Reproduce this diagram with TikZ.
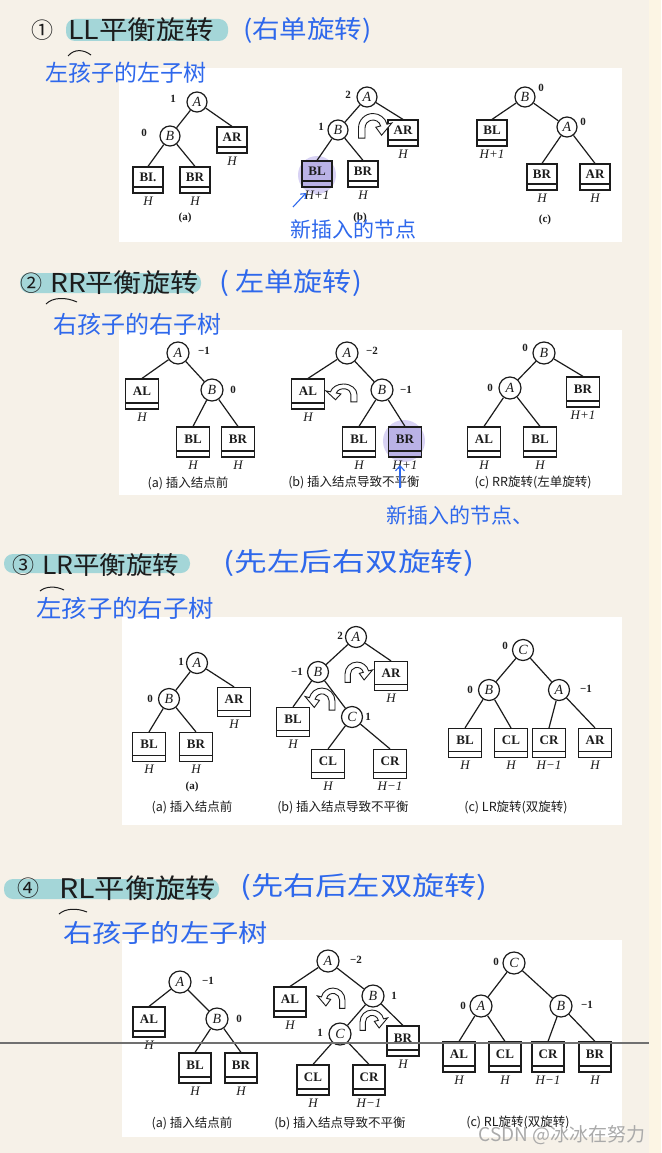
\documentclass[tikz,border=0pt]{standalone}
\usepackage{fontspec}
\setmainfont{Liberation Serif}
\newfontfamily\cjk{Noto Sans CJK SC}
\usetikzlibrary{positioning,arrows.meta}

\definecolor{paper}{RGB}{246,241,232}
\definecolor{paperedge}{RGB}{252,245,228}
\definecolor{tealmark}{RGB}{164,214,216}
\definecolor{pen}{RGB}{46,104,236}
\definecolor{ink}{RGB}{28,28,28}
\definecolor{glow}{RGB}{216,210,244}
\definecolor{newbox}{RGB}{186,178,230}
\definecolor{rulegray}{RGB}{112,112,112}
\definecolor{wm}{RGB}{170,170,170}

\newcommand\bw{30pt}
\newcommand\bh{26pt}
\newcommand\vd{20pt}
\newcommand\hsz[1]{\fontsize{#1}{#1}\selectfont}

\begin{document}
\begin{tikzpicture}[x=1pt, y=-1pt,
    vx/.style={draw=ink, circle, line width=1.2pt, fill=white, minimum size=\vd,
               inner sep=0pt, text=ink, font=\itshape\hsz{14}},
    sub/.style={draw=ink, line width=1.2pt, fill=white, minimum width=\bw,
                minimum height=\bh, inner sep=0pt, text height=9pt, text depth=6.4pt,
                text=ink, font=\bfseries\hsz{13},
                path picture={\draw[ink, line width=1.2pt]
                  ([yshift=6pt]path picture bounding box.south west) --
                  ([yshift=6pt]path picture bounding box.south east);}},
    tie/.style={draw=ink, line width=1.2pt},
    bf/.style={text=ink, inner sep=0pt, font=\bfseries\hsz{11}},
    hh/.style={text=ink, inner sep=1pt, font=\itshape\hsz{13}},
    captxt/.style={text=ink, inner sep=0pt, font=\cjk\hsz{12.5}},
    ttl/.style={text=ink, inner sep=0pt, anchor=west, font=\cjk\hsz{26}},
    hand/.style={text=pen, inner sep=0pt, anchor=west, font=\cjk\hsz{24}},
    panel/.style={fill=white},
    hl/.style={fill=tealmark, rounded corners=9pt},
    swing/.pic={\draw[ink, line width=0.9pt, fill=white, x=1pt, y=1pt]
      (-10,-7) -- (-10,0) arc[start angle=180, end angle=15, radius=10]
      -- (15:13.5) -- (-40:7.75) -- (15:2) -- (15:5.5)
      arc[start angle=15, end angle=180, radius=5.5] -- (-5.5,-7) -- cycle;},
  ]
  \useasboundingbox (0,0) rectangle (661,1153);
  \fill[paper] (0,0) rectangle (661,1153);
  \fill[paperedge] (649,0) rectangle (661,1153);

  % white panels
  \fill[panel] (119,68) rectangle (622,242);
  \fill[panel] (119,330) rectangle (622,495);
  \fill[panel] (122,617) rectangle (622,825);
  \fill[panel] (122,940) rectangle (622,1137);

  % ---------- 1: LL ----------
  \fill[hl] (66,19) rectangle (228,41);
  \node[ttl, font=\cjk\hsz{22}] (LLnum) at (31,30) {①};
  \node[ttl] (LLtitle) at (68,30) {\scalebox{1.1}[1]{LL平衡旋转}};
  \node[hand] (LLalt) at (243,30) {\hsz{25}\scalebox{1.1}[1]{(右单旋转)}};
  \draw[ink, line width=1pt] (68,56) .. controls (74,49) and (83,49) .. (91,55);
  \node[hand, font=\cjk\hsz{23}] (LLsub) at (45,73) {左孩子的左子树};

  \def\bw{30pt}\def\bh{26pt}\def\vd{20pt}
  % (a)
  \node[vx] (LLaA) at (197,102) {A};
  \node[vx] (LLaB) at (170,136) {B};
  \node[sub] (LLaAR) at (232,140) {AR};
  \node[sub] (LLaBL) at (148,180) {BI.};
  \node[sub] (LLaBR) at (195,180) {BR};
  \node[bf] (LLaAf) at (173,99) {1};
  \node[bf] (LLaBf) at (144,133) {0};
  \node[hh, below=2.5pt of LLaAR] (LLaARh) {H};
  \node[hh, below=2.5pt of LLaBL] (LLaBLh) {H};
  \node[hh, below=2.5pt of LLaBR] (LLaBRh) {H};
  \node[bf] (LLacap) at (185,218) {(a)};
  \foreach \u/\v in {LLaA/LLaB, LLaA/LLaAR.north, LLaB/LLaBL.north, LLaB/LLaBR.north}
    \draw[tie] (\u) -- (\v);
  % (b)
  \fill[glow] (317,175) circle[radius=19];
  \node[vx] (LLbA) at (367,97) {A};
  \node[vx] (LLbB) at (338,130) {B};
  \node[sub] (LLbAR) at (403,133) {AR};
  \node[sub, fill=newbox] (LLbBL) at (317,174) {BL};
  \node[sub] (LLbBR) at (363,174) {BR};
  \node[bf] (LLbAf) at (348,95) {2};
  \node[bf] (LLbBf) at (321,127) {1};
  \node[hh, below=2.5pt of LLbAR] (LLbARh) {H};
  \node[hh, below=2.5pt of LLbBL] (LLbBLh) {H+1};
  \node[hh, below=2.5pt of LLbBR] (LLbBRh) {H};
  \node[bf] (LLbcap) at (360,218) {(b)};
  \foreach \u/\v in {LLbA/LLbB, LLbA/LLbAR.north, LLbB/LLbBL.north, LLbB/LLbBR.north}
    \draw[tie] (\u) -- (\v);
  \pic[scale=1.45] at (373,128) {swing};
  % (c)
  \node[vx] (LLcB) at (525,97) {B};
  \node[vx] (LLcA) at (567,127) {A};
  \node[sub] (LLcBL) at (492,133) {BL};
  \node[sub] (LLcBR) at (542,177) {BR};
  \node[sub] (LLcAR) at (595,177) {AR};
  \node[bf] (LLcBf) at (541,88) {0};
  \node[bf] (LLcAf) at (583,122) {0};
  \node[hh, below=2.5pt of LLcBL] (LLcBLh) {H+1};
  \node[hh, below=2.5pt of LLcBR] (LLcBRh) {H};
  \node[hh, below=2.5pt of LLcAR] (LLcARh) {H};
  \node[bf] (LLccap) at (545,220) {(c)};
  \foreach \u/\v in {LLcB/LLcBL.north, LLcB/LLcA, LLcA/LLcBR.north, LLcA/LLcAR.north}
    \draw[tie] (\u) -- (\v);
  % new node note
  \node[hand, font=\cjk\hsz{21}] (LLnew) at (290,229) {新插入的节点};
  \coordinate (LLptr) at (293,207);
  \coordinate (LLtip) at (306,193);
  \draw[pen, line width=1.1pt, -{Straight Barb[length=4pt, width=7pt]}] (LLptr) -- (LLtip);

  % ---------- 2: RR ----------
  \fill[hl] (20,273) rectangle (201,293);
  \node[ttl, font=\cjk\hsz{22}] (RRnum) at (20,283) {②};
  \node[ttl] (RRtitle) at (50,283) {\scalebox{1.08}[1]{RR平衡旋转}};
  \node[hand] (RRalt) at (219,283) {\hsz{26}\scalebox{1.12}[1]{( 左单旋转)}};
  \draw[ink, line width=1pt] (46,304) .. controls (53,297) and (66,297) .. (77,302);
  \node[hand] (RRsub) at (53,324) {右孩子的右子树};

  \def\bw{33pt}\def\bh{30pt}\def\vd{22pt}
  % (a)
  \node[vx] (RRaA) at (178,353) {A};
  \node[sub] (RRaAL) at (142,394) {AL};
  \node[vx] (RRaB) at (212,390) {B};
  \node[sub] (RRaBL) at (193,442) {BL};
  \node[sub] (RRaBR) at (238,442) {BR};
  \node[bf] (RRaAf) at (204,351) {−1};
  \node[bf] (RRaBf) at (233,390) {0};
  \node[hh, below=2pt of RRaAL] (RRaALh) {H};
  \node[hh, below=2pt of RRaBL] (RRaBLh) {H};
  \node[hh, below=2pt of RRaBR] (RRaBRh) {H};
  \node[captxt] (RRacap) at (188,483) {(a) 插入结点前};
  \foreach \u/\v in {RRaA/RRaAL.north, RRaA/RRaB, RRaB/RRaBL.north, RRaB/RRaBR.north}
    \draw[tie] (\u) -- (\v);
  % (b)
  \fill[glow] (404,441) circle[radius=21];
  \node[vx] (RRbA) at (347,353) {A};
  \node[sub] (RRbAL) at (308,394) {AL};
  \node[vx] (RRbB) at (382,390) {B};
  \node[sub] (RRbBL) at (359,442) {BL};
  \node[sub, fill=newbox] (RRbBR) at (405,442) {BR};
  \node[bf] (RRbAf) at (372,351) {−2};
  \node[bf] (RRbBf) at (406,390) {−1};
  \node[hh, below=2pt of RRbAL] (RRbALh) {H};
  \node[hh, below=2pt of RRbBL] (RRbBLh) {H};
  \node[hh, below=2pt of RRbBR] (RRbBRh) {H+1};
  \node[captxt] (RRbcap) at (354,482) {(b) 插入结点导致不平衡};
  \foreach \u/\v in {RRbA/RRbAL.north, RRbA/RRbB, RRbB/RRbBL.north, RRbB/RRbBR.north}
    \draw[tie] (\u) -- (\v);
  \pic[xscale=-1.35, yscale=1.05] at (343.5,394.5) {swing};
  % (c)
  \node[vx] (RRcB) at (544,353) {B};
  \node[vx] (RRcA) at (510,388) {A};
  \node[sub] (RRcBR) at (583,392) {BR};
  \node[sub] (RRcAL) at (484,442) {AL};
  \node[sub] (RRcBL) at (540,442) {BL};
  \node[bf] (RRcBf) at (525,348) {0};
  \node[bf] (RRcAf) at (490,388) {0};
  \node[hh, below=2pt of RRcBR] (RRcBRh) {H+1};
  \node[hh, below=2pt of RRcAL] (RRcALh) {H};
  \node[hh, below=2pt of RRcBL] (RRcBLh) {H};
  \node[captxt] (RRccap) at (533,482) {(c) RR旋转(左单旋转)};
  \foreach \u/\v in {RRcB/RRcA, RRcB/RRcBR.north, RRcA/RRcAL.north, RRcA/RRcBL.north}
    \draw[tie] (\u) -- (\v);
  % new node note
  \coordinate (RRptr) at (400,488);
  \coordinate (RRtip) at (400,465);
  \draw[pen, line width=1.1pt, -{Straight Barb[length=5pt, width=9pt]}] (RRptr) -- (RRtip);
  \node[hand, font=\cjk\hsz{21}] (RRnew) at (386,515) {新插入的节点、};

  % ---------- 3: LR ----------
  \fill[hl] (4,554) rectangle (190,573);
  \node[ttl, font=\cjk\hsz{22}] (LRnum) at (12,565) {③};
  \node[ttl, font=\cjk\hsz{25}] (LRtitle) at (42,565) {\scalebox{1.06}[1]{LR平衡旋转}};
  \node[hand] (LRalt) at (223,563) {\hsz{26}\scalebox{1.26}[1]{(先左后右双旋转)}};
  \draw[ink, line width=1pt] (40,591) .. controls (46,586) and (56,586) .. (64,590);
  \node[hand] (LRsub) at (36,608) {\hsz{24}\scalebox{1.06}[1]{左孩子的右子树}};

  \def\bw{33pt}\def\bh{29pt}\def\vd{21pt}
  % (a)
  \node[vx] (LRaA) at (197,663) {A};
  \node[vx] (LRaB) at (169,699) {B};
  \node[sub] (LRaAR) at (234,702) {AR};
  \node[sub] (LRaBL) at (149,747) {BL};
  \node[sub] (LRaBR) at (196,747) {BR};
  \node[bf] (LRaAf) at (181,662) {1};
  \node[bf] (LRaBf) at (150,699) {0};
  \node[hh, below=2pt of LRaAR] (LRaARh) {H};
  \node[hh, below=2pt of LRaBL] (LRaBLh) {H};
  \node[hh, below=2pt of LRaBR] (LRaBRh) {H};
  \node[bf] (LRaa) at (192,787) {(a)};
  \node[captxt] (LRacap) at (192,807) {(a) 插入结点前};
  \foreach \u/\v in {LRaA/LRaB, LRaA/LRaAR.north, LRaB/LRaBL.north, LRaB/LRaBR.north}
    \draw[tie] (\u) -- (\v);
  % (b)
  \node[vx] (LRbA) at (356,637) {A};
  \node[vx] (LRbB) at (318,672) {B};
  \node[sub] (LRbAR) at (391,676) {AR};
  \node[sub] (LRbBL) at (293,722) {BL};
  \node[vx] (LRbC) at (352,717) {C};
  \node[sub] (LRbCL) at (328,764) {CL};
  \node[sub] (LRbCR) at (390,764) {CR};
  \node[bf] (LRbAf) at (340,636) {2};
  \node[bf] (LRbBf) at (297,672) {−1};
  \node[bf] (LRbCf) at (368,717) {1};
  \node[hh, below=2pt of LRbAR] (LRbARh) {H};
  \node[hh, below=2pt of LRbBL] (LRbBLh) {H};
  \node[hh, below=2pt of LRbCL] (LRbCLh) {H};
  \node[hh, below=2pt of LRbCR] (LRbCRh) {H−1};
  \node[captxt] (LRbcap) at (343,807) {(b) 插入结点导致不平衡};
  \foreach \u/\v in {LRbA/LRbB, LRbA/LRbAR.north, LRbB/LRbBL.north, LRbB/LRbC,
                     LRbC/LRbCL.north, LRbC/LRbCR.north}
    \draw[tie] (\u) -- (\v);
  \pic[scale=1.2] at (357,674) {swing};
  \pic[xscale=-1.3, yscale=1.3] at (322,701) {swing};
  % (c)
  \node[vx] (LRcC) at (523,650) {C};
  \node[vx] (LRcB) at (489,690) {B};
  \node[vx] (LRcA) at (559,690) {A};
  \node[sub] (LRcBL) at (465,743) {BL};
  \node[sub] (LRcCL) at (511,743) {CL};
  \node[sub] (LRcCR) at (549,743) {CR};
  \node[sub] (LRcAR) at (595,743) {AR};
  \node[bf] (LRcCf) at (505,646) {0};
  \node[bf] (LRcBf) at (470,690) {0};
  \node[bf] (LRcAf) at (586,689) {−1};
  \node[hh, below=2pt of LRcBL] (LRcBLh) {H};
  \node[hh, below=2pt of LRcCL] (LRcCLh) {H};
  \node[hh, below=2pt of LRcCR] (LRcCRh) {H−1};
  \node[hh, below=2pt of LRcAR] (LRcARh) {H};
  \node[captxt] (LRccap) at (516,807) {(c) LR旋转(双旋转)};
  \foreach \u/\v in {LRcC/LRcB, LRcC/LRcA, LRcB/LRcBL.north, LRcB/LRcCL.north,
                     LRcA/LRcCR.north, LRcA/LRcAR.north}
    \draw[tie] (\u) -- (\v);

  % ---------- 4: RL ----------
  \fill[hl] (4,879) rectangle (219,899);
  \node[ttl, font=\cjk\hsz{22}] (RLnum) at (17,888) {④};
  \node[ttl, font=\cjk\hsz{27}] (RLtitle) at (59,888) {\scalebox{1.12}[1]{RL平衡旋转}};
  \node[hand] (RLalt) at (240,887) {\hsz{26}\scalebox{1.24}[1]{(先右后左双旋转)}};
  \draw[ink, line width=1pt] (59,914) .. controls (66,908) and (77,908) .. (87,912);
  \node[hand] (RLsub) at (63,933) {\hsz{25}\scalebox{1.17}[1]{右孩子的左子树}};

  \def\bw{32pt}\def\bh{30pt}\def\vd{22pt}
  % (a)
  \node[vx] (RLaA) at (180,982) {A};
  \node[sub] (RLaAL) at (149,1022) {AL};
  \node[vx] (RLaB) at (217,1019) {B};
  \node[sub] (RLaBL) at (195,1068) {BL};
  \node[sub] (RLaBR) at (241,1068) {BR};
  \node[bf] (RLaAf) at (208,981) {−1};
  \node[bf] (RLaBf) at (239,1019) {0};
  \node[hh, below=2pt of RLaAL] (RLaALh) {H};
  \node[hh, below=2pt of RLaBL] (RLaBLh) {H};
  \node[hh, below=2pt of RLaBR] (RLaBRh) {H};
  \node[captxt] (RLacap) at (192,1123) {(a) 插入结点前};
  \foreach \u/\v in {RLaA/RLaAL.north, RLaA/RLaB, RLaB/RLaBL.north, RLaB/RLaBR.north}
    \draw[tie] (\u) -- (\v);
  % (b)
  \node[vx] (RLbA) at (328,961) {A};
  \node[sub] (RLbAL) at (290,1002) {AL};
  \node[vx] (RLbB) at (373,996) {B};
  \node[vx] (RLbC) at (340,1034) {C};
  \node[sub] (RLbBR) at (403,1041) {BR};
  \node[sub] (RLbCL) at (313,1080) {CL};
  \node[sub] (RLbCR) at (369,1080) {CR};
  \node[bf] (RLbAf) at (356,960) {−2};
  \node[bf] (RLbBf) at (394,996) {1};
  \node[bf] (RLbCf) at (320,1033) {1};
  \node[hh, below=2pt of RLbAL] (RLbALh) {H};
  \node[hh, below=2pt of RLbBR] (RLbBRh) {H};
  \node[hh, below=2pt of RLbCL] (RLbCLh) {H};
  \node[hh, below=2pt of RLbCR] (RLbCRh) {H−1};
  \node[captxt] (RLbcap) at (340,1123) {(b) 插入结点导致不平衡};
  \foreach \u/\v in {RLbA/RLbAL.north, RLbA/RLbB, RLbB/RLbC, RLbB/RLbBR.north,
                     RLbC/RLbCL.north, RLbC/RLbCR.north}
    \draw[tie] (\u) -- (\v);
  \pic[xscale=-1.2, yscale=1.2] at (333,1000) {swing};
  \pic[scale=1.2] at (372,1022) {swing};
  % (c)
  \node[vx] (RLcC) at (514,963) {C};
  \node[vx] (RLcA) at (481,1006) {A};
  \node[vx] (RLcB) at (561,1006) {B};
  \node[sub] (RLcAL) at (459,1057) {AL};
  \node[sub] (RLcCL) at (505,1057) {CL};
  \node[sub] (RLcCR) at (548,1057) {CR};
  \node[sub] (RLcBR) at (595,1057) {BR};
  \node[bf] (RLcCf) at (496,962) {0};
  \node[bf] (RLcAf) at (463,1006) {0};
  \node[bf] (RLcBf) at (587,1005) {−1};
  \node[hh, below=2pt of RLcAL] (RLcALh) {H};
  \node[hh, below=2pt of RLcCL] (RLcCLh) {H};
  \node[hh, below=2pt of RLcCR] (RLcCRh) {H−1};
  \node[hh, below=2pt of RLcBR] (RLcBRh) {H};
  \node[captxt] (RLccap) at (518,1122) {(c) RL旋转(双旋转)};
  \foreach \u/\v in {RLcC/RLcA, RLcC/RLcB, RLcA/RLcAL.north, RLcA/RLcCL.north,
                     RLcB/RLcCR.north, RLcB/RLcBR.north}
    \draw[tie] (\u) -- (\v);

  % stray rule and watermark
  \draw[rulegray, line width=2.5pt] (0,1043) -- (649,1043);
  \node[text=wm, inner sep=0pt, font=\cjk\hsz{19}] (wmark) at (562,1135) {CSDN @冰冰在努力};
\end{tikzpicture}
\end{document}
